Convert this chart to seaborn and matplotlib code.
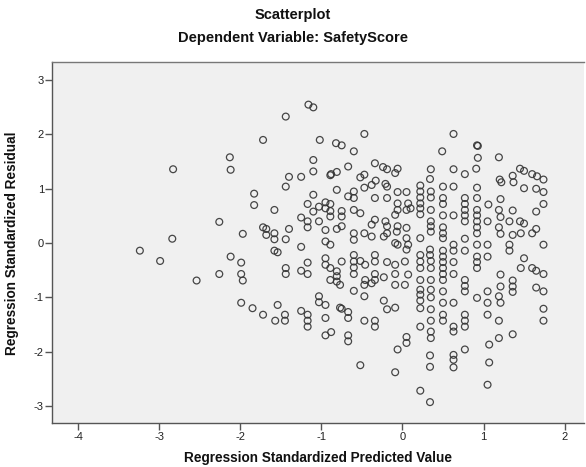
import matplotlib
matplotlib.use("Agg")
import matplotlib.pyplot as plt
import seaborn as sns
import pandas as pd

# (standardized predicted value, standardized residual) pairs, grouped by region
far_left = [(-3.24, -0.14), (-2.99, -0.33), (-2.84, 0.08), (-2.83, 1.36), (-2.54, -0.69),
            (-2.13, 1.58), (-2.12, 1.35), (-2.26, 0.39), (-2.26, -0.57), (-2.12, -0.25),
            (-1.99, -0.36), (-1.99, -0.57), (-1.97, -0.69), (-1.97, 0.17), (-1.99, -1.10),
            (-1.85, -1.20), (-1.83, 0.91), (-1.83, 0.70), (-1.72, 1.90), (-1.72, 0.29),
            (-1.72, -1.32), (-1.68, 0.26), (-1.68, 0.15), (-1.58, 0.61), (-1.58, 0.18),
            (-1.58, 0.07), (-1.58, -0.14), (-1.54, -0.17), (-1.54, -1.14), (-1.57, -1.43),
            (-1.44, 2.33), (-1.44, 1.04), (-1.40, 1.22), (-1.40, 0.26), (-1.44, 0.07),
            (-1.44, -0.46), (-1.44, -0.57), (-1.45, -1.32), (-1.45, -1.43)]

near_minus_one = [(-1.25, 1.22), (-1.25, 0.47), (-1.25, -0.07), (-1.25, -0.51), (-1.25, -1.25),
                  (-1.17, 0.72), (-1.17, 0.40), (-1.17, 0.29), (-1.17, -0.36), (-1.17, -0.57),
                  (-1.17, -1.32), (-1.17, -1.43), (-1.17, -1.54), (-1.16, 2.55), (-1.10, 2.50),
                  (-1.10, 1.53), (-1.10, 1.32), (-1.10, 0.89), (-1.10, 0.58)]

mid_left = [(-1.02, 1.90), (-0.82, 1.84), (-0.75, 1.80), (-0.60, 1.69), (-0.47, 2.01),
            (-0.88, 1.27), (-0.81, 1.31), (-0.67, 1.41), (-0.52, 1.21), (-0.47, 1.26),
            (-0.89, 1.25), (-0.47, 1.02), (-0.81, 0.98), (-1.03, 0.67), (-0.95, 0.75),
            (-0.95, 0.64), (-0.89, 0.72), (-0.89, 0.59), (-0.89, 0.49), (-0.75, 0.59),
            (-0.75, 0.49), (-0.67, 0.86), (-0.60, 0.95), (-0.60, 0.83), (-0.60, 0.61),
            (-0.52, 0.55), (-1.03, 0.40), (-0.95, 0.24), (-0.81, 0.26), (-0.75, 0.31),
            (-0.60, 0.18), (-0.60, 0.06), (-0.47, 0.18), (-0.95, 0.03), (-0.89, -0.03),
            (-0.95, -0.28), (-0.95, -0.40), (-0.89, -0.46), (-0.81, -0.52), (-0.81, -0.61),
            (-0.81, -0.71), (-0.89, -0.68), (-0.75, -0.34), (-0.60, -0.22), (-0.60, -0.34),
            (-0.60, -0.45), (-0.60, -0.57), (-0.52, -0.33), (-0.46, -0.40), (-0.77, -0.77),
            (-0.60, -0.88), (-0.46, -0.68), (-0.47, -0.77), (-1.03, -0.98), (-1.03, -1.09),
            (-0.95, -1.14), (-0.77, -1.19), (-0.47, -0.98), (-0.95, -1.38), (-0.95, -1.70),
            (-0.88, -1.64), (-0.75, -1.21), (-0.67, -1.27), (-0.67, -1.38), (-0.67, -1.70),
            (-0.67, -1.81), (-0.52, -2.25), (-0.47, -1.43)]

center = [(-0.34, 1.47), (-0.24, 1.40), (-0.19, 1.36), (-0.06, 1.37), (-0.09, 1.29),
          (0.35, 1.36), (0.34, 1.18), (-0.33, 1.15), (-0.38, 1.07), (-0.21, 1.09),
          (-0.19, 1.04), (0.22, 1.06), (0.22, 0.95), (0.22, 0.84), (0.22, 0.73),
          (0.22, 0.64), (0.22, 0.53), (-0.34, 0.83), (-0.19, 0.83), (-0.06, 0.94),
          (0.05, 0.94), (-0.06, 0.73), (0.07, 0.73), (0.10, 0.64), (-0.06, 0.61),
          (0.05, 0.61), (0.35, 0.95), (0.35, 0.84), (0.35, 0.61), (-0.38, 0.12),
          (-0.34, 0.43), (-0.38, 0.34), (-0.21, 0.40), (-0.19, 0.31), (-0.23, 0.12),
          (-0.19, 0.18), (-0.09, 0.52), (-0.06, 0.31), (-0.07, 0.21), (0.05, 0.28),
          (0.05, 0.09), (0.07, -0.03), (0.05, -0.12), (-0.09, 0.00), (-0.06, -0.03),
          (0.22, 0.09), (0.35, 0.40), (0.35, 0.31), (0.35, 0.21), (-0.34, -0.22),
          (-0.34, -0.34), (-0.34, -0.57), (-0.34, -0.68), (-0.19, -0.35), (-0.09, -0.40),
          (-0.09, -0.57), (0.03, -0.34), (0.07, -0.58), (0.22, -0.22), (0.22, -0.34),
          (0.22, -0.46), (0.22, -0.68), (0.34, -0.12), (0.34, -0.22), (0.35, -0.33),
          (0.35, -0.46), (0.35, -0.68), (-0.38, -0.74), (-0.23, -0.63), (-0.09, -0.77),
          (0.03, -0.77), (0.22, -0.86), (0.22, -0.95), (0.22, -1.06), (0.35, -0.86),
          (0.35, -1.00), (-0.23, -1.06), (-0.09, -1.19), (0.22, -1.20), (-0.34, -1.43),
          (-0.34, -1.54), (-0.19, -1.22), (-0.06, -1.96), (-0.09, -2.38), (0.05, -1.73),
          (0.05, -1.84), (0.22, -1.54), (0.22, -2.72), (0.35, -1.22), (0.35, -1.43),
          (0.35, -1.63), (0.35, -1.75), (0.34, -2.07), (0.34, -2.28), (0.34, -2.93)]

right_side = [(0.49, 1.69), (0.63, 2.01), (0.92, 1.80), (0.93, 1.79), (0.93, 1.57),
              (1.19, 1.58), (0.63, 1.36), (0.77, 1.27), (0.91, 1.37), (1.45, 1.37),
              (1.50, 1.33), (1.60, 1.27), (1.66, 1.23), (1.74, 1.17), (1.36, 1.24),
              (1.20, 1.17), (1.22, 1.12), (1.37, 1.12), (1.74, 0.94), (1.50, 1.01),
              (1.65, 1.00), (0.50, 1.04), (0.63, 1.04), (0.92, 1.02), (0.50, 0.83),
              (0.50, 0.72), (0.77, 0.83), (0.77, 0.72), (0.77, 0.61), (0.77, 0.51),
              (0.77, 0.40), (0.92, 0.83), (0.92, 0.61), (0.92, 0.51), (0.92, 0.40),
              (0.92, 0.29), (0.92, 0.18), (1.06, 0.71), (1.21, 0.81), (1.19, 0.61),
              (1.21, 0.48), (1.36, 0.60), (1.74, 0.72), (1.65, 0.58), (0.50, 0.51),
              (0.63, 0.51), (1.05, 0.40), (1.32, 0.40), (1.45, 0.40), (1.50, 0.36),
              (1.19, 0.29), (1.21, 0.17), (1.36, 0.15), (1.46, 0.18), (1.60, 0.18),
              (1.65, 0.26), (0.50, 0.29), (0.50, 0.18), (0.50, 0.09), (0.77, 0.08),
              (0.77, -0.14), (0.63, -0.03), (0.63, -0.14), (0.92, -0.03), (1.05, -0.03),
              (1.32, -0.03), (1.32, -0.14), (1.74, -0.03), (0.50, -0.14), (0.50, -0.25),
              (0.50, -0.35), (0.50, -0.46), (0.50, -0.57), (0.50, -0.68), (0.63, -0.35),
              (0.63, -0.57), (0.92, -0.25), (0.92, -0.35), (0.92, -0.46), (1.05, -0.25),
              (1.50, -0.28), (1.46, -0.46), (1.60, -0.46), (1.65, -0.51), (1.74, -0.57),
              (1.21, -0.58), (0.77, -0.68), (0.77, -0.79), (0.77, -0.89), (1.21, -0.80),
              (1.36, -0.69), (1.36, -0.80), (1.36, -0.90), (1.65, -0.82), (1.74, -0.89),
              (0.50, -0.89), (0.50, -1.10), (0.63, -1.10), (0.92, -1.01), (1.05, -0.89),
              (1.05, -1.10), (1.19, -0.98), (1.21, -1.10), (1.74, -1.21), (0.50, -1.32),
              (0.50, -1.43), (0.63, -1.54), (0.63, -1.63), (0.77, -1.32), (0.77, -1.43),
              (0.77, -1.54), (0.77, -1.96), (0.63, -2.06), (0.63, -2.15), (0.63, -2.29),
              (1.05, -1.32), (1.19, -1.43), (1.36, -1.68), (1.19, -1.75), (1.07, -1.87),
              (1.07, -2.20), (1.05, -2.61), (1.74, -1.43)]

x_ticks = [-4, -3, -2, -1, 0, 1, 2]
y_ticks = [-3, -2, -1, 0, 1, 2, 3]

groups = far_left + near_minus_one + mid_left + center + right_side
df = pd.DataFrame(groups, columns=["predicted", "residual"])

sns.set_theme(style="white")
plt.rcParams["font.family"] = ["Liberation Sans", "DejaVu Sans"]
plt.rcParams["axes.unicode_minus"] = False

fig = plt.figure(figsize=(5.86, 4.67), dpi=100)
ax = fig.add_axes([0.0893, 0.0936, 0.9073, 0.773])
ax.set_facecolor("#f0f0f0")

sns.scatterplot(data=df, x="predicted", y="residual", ax=ax,
                marker="o", s=24, facecolor="none", edgecolor="#333333",
                linewidth=0.9, alpha=0.9)

ax.set_xlim(-4.32, 2.24)
ax.set_ylim(-3.32, 3.33)
ax.set_xticks(x_ticks)
ax.set_yticks(y_ticks)
ax.tick_params(axis="both", direction="out", length=5, width=1, color="#555555",
               labelsize=8, labelcolor="#222222", pad=1, bottom=True, left=True)

for side in ["left", "bottom", "top"]:
    ax.spines[side].set_color("#555555")
    ax.spines[side].set_linewidth(1.0)
ax.spines["right"].set_visible(False)
ax.spines["top"].set_color("#777777")

ax.set_xlabel("Regression Standardized Predicted Value", fontsize=9.8, fontweight="bold",
              color="#111111", labelpad=7)
ax.set_ylabel("Regression Standardized Residual", fontsize=9.8, fontweight="bold",
              color="#111111")
ax.yaxis.set_label_coords(-0.062, 0.5)

fig.text(0.5, 0.968, "Scatterplot", ha="center", va="center", fontsize=10.5,
         fontweight="bold", color="#111111")
fig.text(0.5, 0.918, "Dependent Variable: SafetyScore", ha="center", va="center",
         fontsize=10.5, fontweight="bold", color="#111111")

fig.savefig("out.png", dpi=100, facecolor="white")
